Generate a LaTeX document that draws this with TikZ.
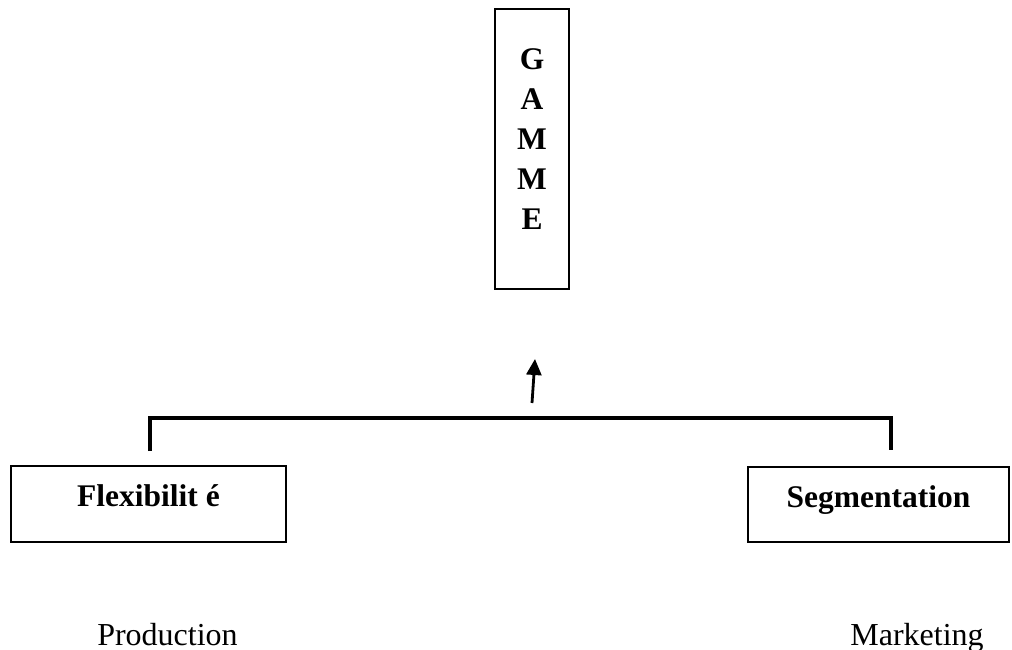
\documentclass[tikz,border=0pt]{standalone}
\usepackage{fontspec}
\setmainfont{Liberation Serif}
\usetikzlibrary{arrows.meta}
\begin{document}
\begin{tikzpicture}[x=1pt,y=-1pt,
  box/.style={draw=black, line width=2pt, inner sep=0pt},
  boldtext/.style={font=\fontsize{31.5}{40}\selectfont\bfseries},
  plaintext/.style={font=\fontsize{32}{38}\selectfont},
  bracket/.style={line width=3.5pt, line join=miter},
  uparrow/.style={line width=2.8pt, -{Triangle[length=16pt,width=15pt]}}]
\useasboundingbox (0,0) rectangle (1012,650);

% tall box with the vertical word
\node[box, minimum width=74pt, minimum height=280pt] (gamme) at (532,149) {};
\node[boldtext, align=center, inner sep=0pt] (gammetext) at (532,139) {G\\A\\M\\M\\E};

% the two lower boxes
\node[box, boldtext, minimum width=275pt, minimum height=76pt,
      text height=22pt, text depth=16pt] (flex) at (148.5,503.5) {Flexibilit é};
\node[box, boldtext, minimum width=261pt, minimum height=75pt,
      text height=22pt, text depth=16pt] (seg) at (878.5,504) {Segmentation};

% captions under the boxes
\node[plaintext, anchor=base, inner sep=0pt] (prod) at (167.5,645) {Production};
\node[plaintext, anchor=base, inner sep=0pt] (mkt) at (917,645) {Marketing};

% bracket joining the two boxes
\coordinate (bl) at (150,451);
\coordinate (blt) at (150,418);
\coordinate (brt) at (891,418);
\coordinate (br) at (891,450);
\draw[bracket] (bl) -- (blt) -- (brt) -- (br);

% arrow pointing up to the top box
\coordinate (arrbase) at (532,403);
\coordinate (arrtip) at (535,359);
\draw[uparrow] (arrbase) -- (arrtip);
\end{tikzpicture}
\end{document}
